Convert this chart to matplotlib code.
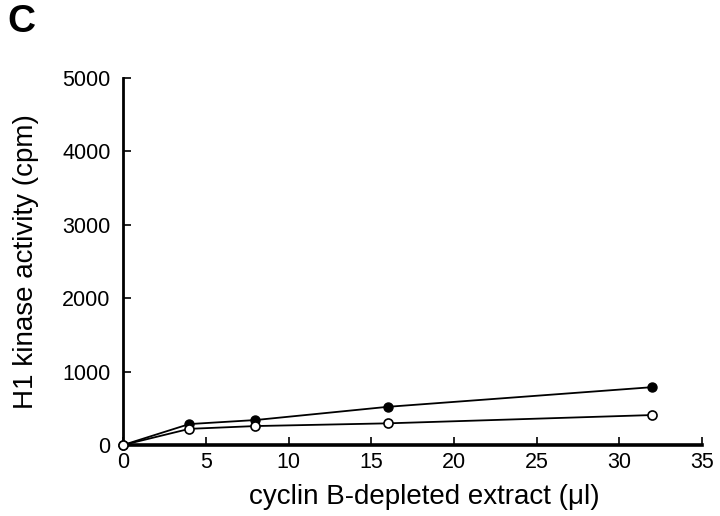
import matplotlib
matplotlib.use("Agg")
import matplotlib.pyplot as plt

plt.rcParams["font.family"] = ["Liberation Sans", "DejaVu Sans"]

# extract volume (ul)
volume = [0, 4, 8, 16, 32]
# H1 kinase activity (cpm)
filled_cpm = [0, 285, 340, 520, 788]
open_cpm = [0, 220, 258, 295, 408]

x_ticks = [0, 5, 10, 15, 20, 25, 30, 35]
y_ticks = [0, 1000, 2000, 3000, 4000, 5000]

fig = plt.figure(figsize=(7.2, 5.16), dpi=100)
ax = fig.add_axes([0.171, 0.1376, 0.804, 0.7114])

ax.plot(volume, filled_cpm, color="black", lw=1.3, marker="o", ms=6.5,
        mfc="black", mec="black", zorder=3, clip_on=False)
ax.plot(volume, open_cpm, color="black", lw=1.3, marker="o", ms=6.5,
        mfc="white", mec="black", mew=1.2, zorder=4, clip_on=False)

ax.set_xlim(0, 35)
ax.set_ylim(0, 5000)
ax.set_xticks(x_ticks)
ax.set_yticks(y_ticks)

for side in ["top", "right"]:
    ax.spines[side].set_visible(False)
ax.spines["left"].set_linewidth(2.0)
ax.spines["bottom"].set_linewidth(2.6)
ax.tick_params(direction="in", length=6, width=1.2, labelsize=15.5)
ax.tick_params(axis="x", pad=5)
ax.tick_params(axis="y", pad=9)

ax.set_xlabel("cyclin B-depleted extract (\u03bcl)", fontsize=20)
ax.xaxis.set_label_coords(0.52, -0.105)
ax.xaxis.label.set_va("top")
ax.set_ylabel("H1 kinase activity (cpm)", fontsize=20, labelpad=17)

fig.text(0.01, 0.958, "C", fontsize=28, fontweight="bold", va="center", ha="left")

fig.savefig("out.png", dpi=100)
